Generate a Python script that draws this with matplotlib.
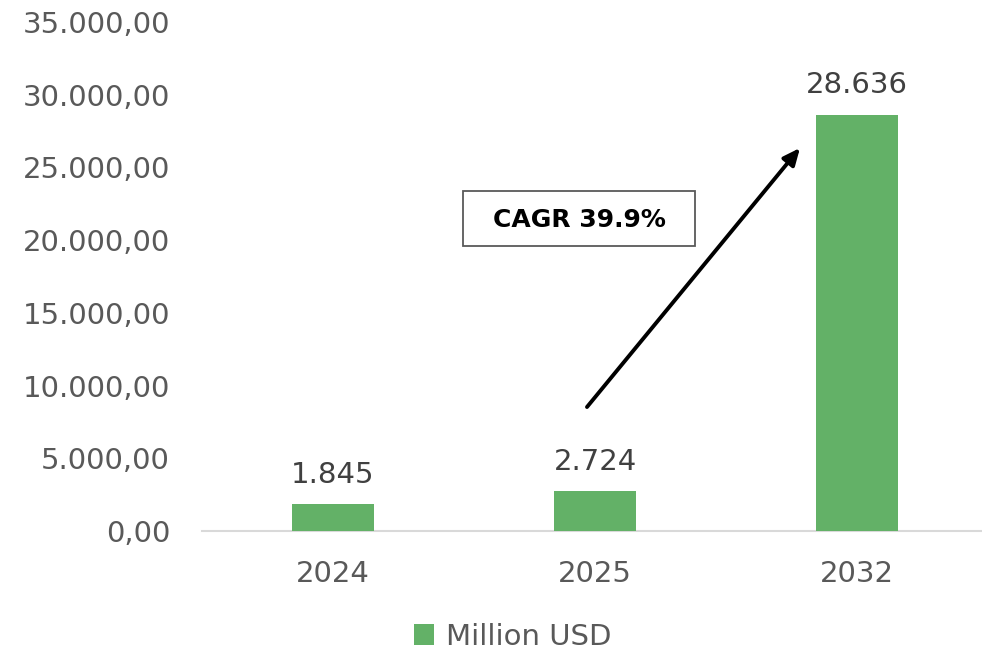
import matplotlib
matplotlib.use("Agg")
import matplotlib.pyplot as plt
from matplotlib.patches import Rectangle

categories = ["2024", "2025", "2032"]
values = [1845, 2724, 28636]
value_labels = ["1.845", "2.724", "28.636"]
yticks = [0, 5000, 10000, 15000, 20000, 25000, 30000, 35000]
ytick_labels = ["0,00", "5.000,00", "10.000,00", "15.000,00", "20.000,00",
                "25.000,00", "30.000,00", "35.000,00"]
series_name = "Million USD"
cagr_text = "CAGR 39.9%"

plt.rcParams['font.family'] = ['DejaVu Sans']
text_color = "#595959"
bar_color = "#63B167"

fig = plt.figure(figsize=(9.82, 6.51), dpi=100)
ax = fig.add_axes([202 / 982, 0.1843, 786 / 982, 0.7819])

x = list(range(len(categories)))
bars = ax.bar(x, values, width=0.313, color=bar_color, label=series_name, zorder=3)
ax.set_xlim(-0.5, 2.5)
ax.set_ylim(0, 35000)
ax.set_yticks(yticks)
ax.set_yticklabels(ytick_labels)
ax.set_xticks(x)
ax.set_xticklabels(categories)
ax.tick_params(axis='both', length=0, labelsize=21, colors=text_color)
ax.tick_params(axis='y', pad=23)
ax.tick_params(axis='x', pad=21)
for s in ["top", "right", "left"]:
    ax.spines[s].set_visible(False)
ax.spines["bottom"].set_color("#D9D9D9")
ax.spines["bottom"].set_linewidth(1.5)

for xi, v, lab in zip(x, values, value_labels):
    ax.annotate(lab, (xi, v), xytext=(0, 11), textcoords="offset points",
                ha="center", va="bottom", fontsize=21, color="#404040")

ax.annotate("", xy=(0.7608, 0.7525), xytext=(0.4898, 0.2436),
            xycoords="axes fraction", textcoords="axes fraction",
            arrowprops=dict(arrowstyle="-|>,head_length=1.0,head_width=0.45",
                            color="black", lw=2.8, shrinkA=0, shrinkB=0))

ax.add_patch(Rectangle((0.332, 0.560), 0.295, 0.108, transform=ax.transAxes,
                       fc="white", ec="#595959", lw=1.3, zorder=4))
ax.text(0.4796, 0.612, cagr_text, transform=ax.transAxes, ha="center", va="center",
        fontsize=18, fontweight="bold", color="black", zorder=5)

leg = fig.legend(handles=[bars], labels=[series_name], loc="lower center",
                 bbox_to_anchor=(0.522, -0.04), frameon=False, fontsize=21,
                 handlelength=0.7, handleheight=0.7, handletextpad=0.4)
for t in leg.get_texts():
    t.set_color(text_color)

fig.savefig("out.png", dpi=100)
